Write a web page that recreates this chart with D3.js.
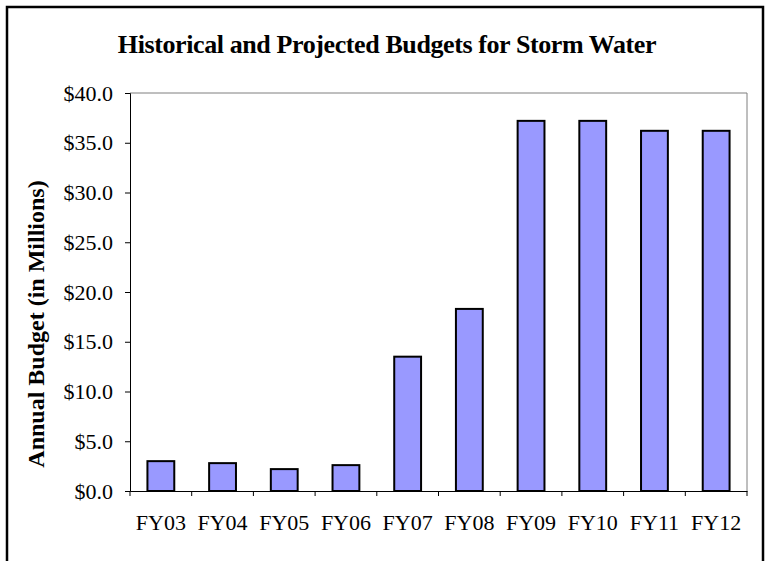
<!DOCTYPE html>
<html>
<head>
<meta charset="utf-8">
<script src="https://cdn.jsdelivr.net/npm/d3@7"></script>
<style>
  body { margin: 0; background: #fff; }
  svg { display: block; }
</style>
</head>
<body>
<div id="chart"></div>
<script>
(function(){
  // Fiscal years and budgets (in millions)
  const years = ["FY03", "FY04", "FY05", "FY06", "FY07", "FY08", "FY09", "FY10", "FY11", "FY12"];
  const budgets = [3.0, 2.8, 2.2, 2.6, 13.5, 18.3, 37.2, 37.2, 36.2, 36.2];
  const yTicks = [0, 5, 10, 15, 20, 25, 30, 35, 40];

  const width = 768, height = 561;
  const margin = { top: 93, right: 21, bottom: 70, left: 130 };
  const serif = "'Liberation Serif', 'Times New Roman', serif";

  const svg = d3.select("#chart").append("svg")
    .attr("width", width)
    .attr("height", height);

  // outer chart frame (bottom edge runs off the picture)
  svg.append("rect")
    .attr("x", 7).attr("y", 7)
    .attr("width", 756).attr("height", 600)
    .attr("fill", "none")
    .attr("stroke", "#000")
    .attr("stroke-width", 2.5);

  svg.append("text")
    .attr("x", 387).attr("y", 53)
    .attr("text-anchor", "middle")
    .style("font-family", serif)
    .style("font-weight", "bold")
    .style("font-size", "26px")
    .style("letter-spacing", "-0.4px")
    .text("Historical and Projected Budgets for Storm Water");

  const x = d3.scaleBand()
    .domain(years)
    .range([margin.left, width - margin.right])
    .paddingInner(0.565)
    .paddingOuter(0.2825);

  const y = d3.scaleLinear()
    .domain([0, 40])
    .range([height - margin.bottom, margin.top]);

  // plot area border, top and right
  svg.append("path")
    .attr("d", `M${margin.left},${margin.top}H${width - margin.right}V${height - margin.bottom}`)
    .attr("fill", "none")
    .attr("stroke", "#7f7f7f")
    .attr("stroke-width", 1);

  svg.selectAll(".bar")
    .data(budgets)
    .enter().append("rect")
    .attr("class", "bar")
    .attr("x", (d, i) => x(years[i]))
    .attr("y", d => y(d))
    .attr("width", x.bandwidth())
    .attr("height", d => y(0) - y(d))
    .attr("fill", "#9999ff")
    .attr("stroke", "#000")
    .attr("stroke-width", 2);

  // y axis
  const yAxis = svg.append("g")
    .attr("transform", `translate(${margin.left},0)`)
    .call(d3.axisLeft(y).tickValues(yTicks).tickSize(5).tickPadding(12)
      .tickFormat(d => "$" + d3.format(".1f")(d)));
  yAxis.select(".domain").attr("stroke", "#000");
  yAxis.selectAll("line").attr("stroke", "#000");
  yAxis.selectAll("text")
    .style("font-family", serif)
    .style("font-size", "22px")
    .attr("fill", "#000");

  // x axis: ticks between categories
  const xAxis = svg.append("g")
    .attr("transform", `translate(0,${y(0)})`)
    .call(d3.axisBottom(x).tickSize(0).tickPadding(23));
  xAxis.select(".domain").attr("stroke", "#000");
  xAxis.selectAll("text")
    .style("font-family", serif)
    .style("font-size", "22px")
    .attr("fill", "#000");
  const step = x.step();
  xAxis.selectAll(".sep")
    .data(d3.range(years.length + 1))
    .enter().append("line")
    .attr("class", "sep")
    .attr("x1", i => margin.left + i * step)
    .attr("x2", i => margin.left + i * step)
    .attr("y1", 0).attr("y2", 5)
    .attr("stroke", "#000");

  svg.append("text")
    .attr("transform", "translate(44,324) rotate(-90)")
    .attr("text-anchor", "middle")
    .style("font-family", serif)
    .style("font-weight", "bold")
    .style("font-size", "24px")
    .text("Annual Budget (in Millions)");
})();
</script>
</body>
</html>
